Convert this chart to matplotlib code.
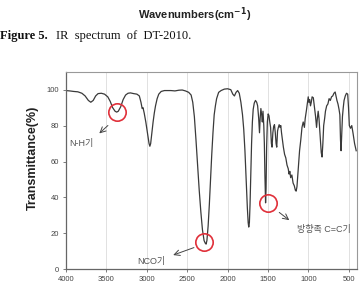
import matplotlib
matplotlib.use('Agg')
import matplotlib.pyplot as plt

plt.rcParams['font.family'] = ['Liberation Sans', 'Noto Sans CJK KR', 'DejaVu Sans']

# IR spectrum: wavenumber (cm-1) and transmittance (%)
wavenumbers = [
    4000, 3950, 3900, 3850, 3800, 3760, 3720, 3690, 3660, 3630, 3600, 3560, 3520, 3480,
    3450, 3420, 3390, 3370, 3350, 3320, 3290, 3260, 3230, 3200, 3160, 3120, 3090, 3070,
    3055, 3045, 3030, 3010, 2990, 2970, 2960, 2950, 2935, 2920, 2905, 2890, 2870, 2850,
    2820, 2780, 2700, 2650, 2600, 2560, 2520, 2480, 2450, 2430, 2410, 2390, 2370, 2350,
    2330, 2310, 2290, 2275, 2265, 2255, 2240, 2225, 2210, 2195, 2180, 2165, 2150, 2135,
    2110, 2080, 2040, 2000, 1960, 1935, 1915, 1895, 1875, 1855, 1835, 1815, 1800, 1785,
    1770, 1755, 1745, 1738, 1730, 1722, 1712, 1703, 1693, 1683, 1670, 1655, 1640, 1628,
    1615, 1605, 1597, 1588, 1578, 1570, 1562, 1552, 1545, 1538, 1530, 1524, 1517, 1508,
    1498, 1488, 1478, 1468, 1458, 1450, 1440, 1430, 1420, 1410, 1400, 1392, 1382, 1372,
    1362, 1352, 1342, 1333, 1322, 1310, 1295, 1280, 1265, 1250, 1240, 1230, 1220, 1205,
    1190, 1175, 1162, 1152, 1142, 1132, 1122, 1110, 1095, 1080, 1065, 1050, 1040, 1025,
    1012, 1003, 995, 985, 975, 965, 955, 940, 925, 912, 900, 890, 880, 870,
    855, 842, 832, 822, 812, 800, 790, 775, 760, 745, 730, 715, 700, 685,
    670, 658, 648, 635, 622, 612, 604, 597, 590, 580, 570, 560, 545, 530,
    515, 505, 495, 480, 465, 450, 430, 410,
]
transmittance = [
    99.5, 99.3, 99.0, 98.8, 98.0, 96.5, 94.0, 93.0, 94.0, 96.5, 97.8, 98.0, 97.5, 96.0,
    93.5, 90.0, 88.0, 87.5, 88.0, 90.5, 94.5, 97.0, 98.0, 98.2, 97.8, 97.5, 96.5, 93.0,
    89.5, 90.0, 87.0, 82.0, 76.0, 70.0, 68.5, 70.0, 76.0, 82.0, 87.0, 91.0, 95.0, 97.5,
    99.0, 99.5, 99.5, 99.3, 99.7, 99.8, 99.3, 98.5, 97.0, 93.0, 85.0, 72.0, 58.0, 44.0,
    32.0, 22.0, 16.0, 14.5, 14.0, 16.0, 24.0, 36.0, 50.0, 64.0, 76.0, 86.0, 91.0, 95.0,
    98.5, 99.5, 100.3, 100.5, 100.0, 97.5, 96.5, 98.5, 99.5, 98.0, 93.0, 86.0, 78.0, 66.0,
    50.0, 34.0, 26.0, 23.5, 26.0, 36.0, 55.0, 70.0, 82.0, 89.0, 92.5, 94.0, 93.0, 91.0,
    84.0, 76.0, 84.0, 89.5, 86.0, 82.0, 88.0, 80.0, 70.0, 52.0, 37.0, 45.0, 68.0, 82.0,
    86.5, 85.5, 82.0, 79.0, 70.0, 68.0, 76.0, 79.5, 80.5, 76.0, 70.0, 68.0, 77.0, 79.0,
    80.5, 79.0, 80.0, 76.0, 72.0, 68.0, 64.0, 62.0, 58.0, 56.0, 53.0, 54.5, 51.0, 52.5,
    48.0, 46.5, 44.0, 43.5, 46.0, 52.0, 58.0, 66.0, 72.0, 79.0, 82.0, 79.0, 84.0, 88.5,
    93.0, 96.0, 93.0, 94.5, 91.0, 93.0, 96.0, 95.5, 90.0, 85.0, 79.0, 84.0, 88.0, 84.0,
    74.0, 65.0, 62.5, 70.0, 80.0, 84.0, 88.0, 91.0, 92.0, 95.0, 94.0, 96.0, 96.5, 98.0,
    98.7, 96.0, 94.0, 92.0, 89.0, 86.0, 72.0, 66.0, 74.0, 85.0, 90.0, 94.0, 96.5, 98.0,
    97.5, 90.0, 80.0, 78.5, 80.0, 76.0, 70.0, 66.0,
]

x_ticks = [4000, 3500, 3000, 2500, 2000, 1500, 1000, 500]
y_ticks = [0, 20, 40, 60, 80, 100]

# marked bands: label, circle centre, arrow tail, arrow head, label position
band_labels = ['N-H기', 'NCO기', '방향족 C=C기']
circle_centres = [(3363, 87.6), (2287, 15.3), (1505, 36.8)]
arrow_tails = [(3453, 81.1), (2383, 12.6), (1388, 32.6)]
arrow_heads = [(3610, 74.6), (2704, 7.4), (1210, 26.4)]
label_positions = [(3803, 70.0), (2938, 4.6), (815, 22.4)]

fig = plt.figure(figsize=(3.6, 2.97), dpi=100)
ax = fig.add_axes([0.1825, 0.0933, 0.8092, 0.6653])

ax.plot(wavenumbers, transmittance, color='#3a3a3a', lw=0.9)
ax.set_xlim(4000, 400)
ax.set_ylim(0, 110)
ax.set_xticks(x_ticks)
ax.set_yticks(y_ticks)
ax.grid(axis='x', color='#dcdcdc', lw=0.6)
ax.tick_params(labelsize=5.5, labelcolor='#444444', color='#666666',
               length=2, width=0.6, pad=3)
for side in ['left', 'bottom']:
    ax.spines[side].set_color('#666666')
    ax.spines[side].set_linewidth(0.9)
for side in ['top', 'right']:
    ax.spines[side].set_color('#999999')
    ax.spines[side].set_linewidth(0.8)

for (cx, cy), tail, head, lab, pos in zip(circle_centres, arrow_tails, arrow_heads,
                                           band_labels, label_positions):
    ax.plot([cx], [cy], marker='o', ms=12.5, mfc='none', mec='#e0303a', mew=1.2,
            clip_on=False)
    ax.annotate('', xy=head, xytext=tail,
                arrowprops=dict(arrowstyle='->', color='#444444', lw=0.7))
    ax.text(pos[0], pos[1], lab, fontsize=6.5, color='#555555',
            ha='center', va='center')

fig.text(0.092, 0.468, 'Transmittance(%)', rotation=90, ha='center', va='center',
         fontsize=9, fontweight='bold', color='#222222')

fig.text(0.54, 0.95, 'Wavenumbers(cm$^{\\mathbf{-1}}$)', ha='center', va='center',
         fontsize=8, fontweight='bold', color='#222222')
fig.text(0.0, 0.88, 'Figure 5.', ha='left', va='center', fontsize=9,
         fontweight='bold', family='Liberation Serif', color='#111111')
fig.text(0.155, 0.88, 'IR  spectrum  of  DT-2010.', ha='left', va='center', fontsize=9,
         family='Liberation Serif', color='#111111')
# x label of this chart, cut by the lower edge
fig.text(0.57, -0.03, 'Wavenumbers(cm$^{\\mathbf{-1}}$)', ha='center', va='center',
         fontsize=8, fontweight='bold', color='#222222')

fig.savefig('out.png', dpi=100)
